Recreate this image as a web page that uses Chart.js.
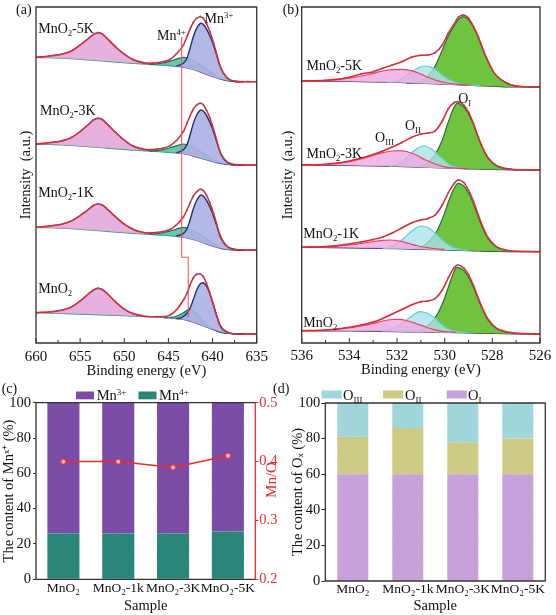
<!DOCTYPE html>
<html><head><meta charset="utf-8">
<script src="https://cdn.jsdelivr.net/npm/chart.js@4.4.1/dist/chart.umd.min.js"></script>
<style>
html,body{margin:0;padding:0;background:#fff;}
body{width:556px;height:615px;position:relative;overflow:hidden;}
canvas{position:absolute;}
</style></head><body>
<canvas id="ca" width="278" height="380" style="left:0;top:0"></canvas>
<canvas id="cb" width="278" height="380" style="left:278px;top:0"></canvas>
<canvas id="cc" width="290" height="235" style="left:0;top:380px"></canvas>
<canvas id="cd" width="286" height="235" style="left:270px;top:380px"></canvas>
<script>
// ===== DATA =====
// Panel (a): Mn 2p XPS, points [binding energy (eV), intensity (a.u., stacked)]
const a5K_bg  = [[660,285.7],[656,284.3],[652,281.7],[649,279.7],[646,278],[644.5,277],[643,275.3],[642,273],[641,269.7],[640,266.3],[639,263.7],[638,262],[637,261.3],[635,261.3]];
const a5K_sat = [[660,285.7],[658,287.5],[657,289],[656,292],[655,298],[654,305],[653.5,308.5],[653,310.3],[652.5,309],[652,305],[651,296],[650,288.5],[649,283],[648,280],[647,278.6]];
const a5K_mn4 = [[647.1,278.3],[645.6,280],[644.4,283],[643.3,285.7],[642.2,282.3],[641.05,276.3],[640.1,270.3],[639.2,264.7],[638,261.8],[637,261.3]];
const a5K_mn3 = [[644.1,276.8],[643.3,279.7],[642.9,284.7],[642.55,294.7],[642.2,305.7],[641.8,314.7],[641.3,319.7],[640.9,317],[640.3,307],[639.9,298],[639.5,287],[639.2,278],[638.8,270.3],[638.4,265.7],[638,263],[637.3,261.3],[636.5,261.3]];
const a5K_env = [[660,285.7],[658,287.5],[657,289],[656,292],[655,298],[654,305],[653.5,308.5],[653,310.3],[652.5,309],[652,305],[651,296.3],[650,289],[649,283.5],[648,280.8],[647.5,279.8],[646.3,280.3],[645.6,281.3],[644.8,283.7],[644.1,289],[643.3,298],[642.9,306.3],[642.55,313.7],[642.2,320.3],[641.8,324.7],[641.4,326.3],[641.05,324.7],[640.7,319.7],[640.3,311.3],[639.9,300.3],[639.5,288],[639.2,278],[638.8,270.3],[638.4,265.7],[638,263],[637.3,261.7],[636,261.3],[635,261.3]];

const a3K_bg  = [[660,199],[656,197.6],[652,195],[649,193],[646,191.3],[644.5,190.3],[643,188.8],[642,186.5],[641,184],[640,181.5],[639,179.5],[638,178.3],[637,178],[635,178]];
const a3K_sat = [[660,199],[658,200.8],[657,202.3],[656,205.5],[655,211.5],[654,219],[653.5,223],[653,224.7],[652.5,223.5],[652,219.5],[651,210.5],[650,202.5],[649,196.5],[648,193.5],[647,192.2]];
const a3K_mn4 = [[647.1,191.8],[645.6,193.3],[644.4,196.3],[643.3,199],[642.2,195.6],[641.05,189.8],[640.1,184.3],[639.2,180.2],[638,178.3],[637,178]];
const a3K_mn3 = [[644.1,190.2],[643.3,193.2],[642.9,198.2],[642.55,208],[642.2,219],[641.8,228],[641.3,233],[640.9,230.5],[640.3,220.5],[639.9,211.5],[639.5,200.5],[639.2,192],[638.8,185],[638.4,181],[638,179],[637.3,178],[636.5,178]];
const a3K_env = [[660,199],[658,200.8],[657,202.3],[656,205.5],[655,211.5],[654,219],[653.5,223],[653,224.7],[652.5,223.5],[652,219.5],[651,210.8],[650,203],[649,197],[648,194.3],[647.5,193.3],[646.3,193.8],[645.6,194.8],[644.8,197.3],[644.1,202.5],[643.3,211.5],[642.9,219.8],[642.55,227],[642.2,233.5],[641.8,238],[641.4,239.7],[641.05,238.2],[640.7,233],[640.3,225],[639.9,214],[639.5,202],[639.2,192.3],[638.8,185.3],[638.4,181.5],[638,179.5],[637.3,178.3],[636,178],[635,178]];

const a1K_bg  = [[660,115.7],[656,114.3],[652,111.7],[649,109.7],[646,108],[644.5,107],[643,105.3],[642,103],[641,100],[640,97],[639,94.5],[638,93.3],[637,93],[635,93]];
const a1K_sat = [[660,115.7],[658,117.5],[657,119],[656,122],[655,127.5],[654,134],[653.5,137.5],[653,139],[652.5,138],[652,134.5],[651,126],[650,118.5],[649,113.2],[648,110.5],[647,109.3]];
const a1K_mn4 = [[647.1,108.8],[645.6,110.3],[644.4,113],[643.3,115.7],[642.2,112.5],[641.05,106.5],[640.1,100.5],[639.2,95.5],[638,93.3],[637,93]];
const a1K_mn3 = [[644.1,106.8],[643.3,109.5],[642.9,114],[642.55,123],[642.2,133.5],[641.8,142.5],[641.3,148],[640.9,145.5],[640.3,136],[639.9,127],[639.5,116.5],[639.2,108],[638.8,101],[638.4,97],[638,94.8],[637.3,93.3],[636.5,93]];
const a1K_env = [[660,115.7],[658,117.5],[657,119],[656,122],[655,127.5],[654,134],[653.5,137.5],[653,139],[652.5,138],[652,134.5],[651,126.3],[650,119],[649,113.8],[648,111],[647.5,110],[646.3,110.5],[645.6,111.5],[644.8,113.5],[644.1,118],[643.3,126],[642.9,133],[642.55,140],[642.2,146.5],[641.8,151],[641.4,153.7],[641.05,152.5],[640.7,148],[640.3,140],[639.9,130],[639.5,118],[639.2,109],[638.8,101.5],[638.4,97],[638,94.5],[637.3,93.3],[636,93],[635,93]];

const a0_bg  = [[660,30.3],[655,29],[650,27.3],[647,26.3],[645,25.3],[644,24.3],[643,23],[642,20.3],[641,17],[640,13.7],[639,11],[638,9.7],[637,9],[635,9]];
const a0_sat = [[660,30.3],[658,31.5],[657,33],[656,36],[655,42],[654,49.5],[653.5,53],[653,54.7],[652.5,53.5],[652,50],[651,41],[650,33.5],[649,29],[648,27],[647,26.3]];
const a0_mn4 = [[645.5,25],[644.8,25.5],[644.1,26.8],[643.3,30.3],[642.6,33.7],[641.8,29.7],[641.05,21.3],[640.1,14.7],[639.2,10.7],[638,9.5],[637,9]];
const a0_mn3 = [[644.1,24.3],[643.5,25.3],[642.9,29.7],[642.55,34.7],[642.2,43],[641.8,53],[641.4,59],[641.1,60.3],[640.7,57],[640.3,49],[639.9,38],[639.5,26.3],[639.2,19],[638.8,13.7],[638,9.7],[637.3,9],[636.5,9]];
const a0_env = [[660,30.3],[658,31.5],[657,33],[656,36],[655,42],[654,49.5],[653.5,53],[653,54.7],[652.5,53.5],[652,50],[651,41.3],[650,34],[649,29.5],[648,27.3],[647.5,26.5],[646.3,26.3],[645.6,26.3],[644.8,28],[644.1,33],[643.3,43],[642.9,49.7],[642.55,58],[642.2,64.7],[641.8,68.7],[641.4,69],[641.05,66.3],[640.7,59.7],[640.3,49.7],[639.9,38],[639.5,26.3],[639.2,18],[638.8,13],[638,9.7],[637.3,9],[636,9],[635,9]];

const mnPeakGuide = [[643.5,306],[643.5,85.7],[642.75,85.7],[642.75,26]];

// Panel (b): O 1s XPS, points [binding energy (eV), intensity (a.u., stacked)]
const b5K_bg  = [[536,262],[534,261.5],[532,260.5],[531,259.8],[530,258.8],[529,257.8],[528,256.8],[527.5,256.2],[527,256],[526,256]];
const b5K_o3  = [[536,262],[535,262.3],[534.2,264.3],[533.5,267],[533,269.7],[532.6,272],[532.2,273.3],[531.8,273.7],[531.4,272.3],[531,269],[530.7,265.7],[530.4,263],[530,260.5],[529.5,258.7],[529,257.8]];
const b5K_o2  = [[532.4,260.6],[532,261.8],[531.8,264.7],[531.4,271.3],[531,276.3],[530.83,277],[530.6,276],[530.4,273.7],[530.1,268],[529.85,263.7],[529.5,260.3],[529,258],[528.5,257.3]];
const b5K_o1  = [[531.6,259.6],[531,262],[530.7,267],[530.4,277],[530.1,293],[529.85,307],[529.57,318.5],[529.43,323.5],[529.22,326.3],[529,323.5],[528.8,316],[528.59,305.5],[528.38,292.5],[528.17,281],[527.89,269],[527.61,263],[527.2,258],[526.5,256.2],[526,256]];
const b5K_env = [[536,262],[535,262.7],[534.2,264.7],[533.5,269],[533,271.3],[532.6,274.7],[532.2,278],[531.8,281.3],[531.4,285.7],[531,287.7],[530.7,288],[530.4,290.3],[530.1,298],[529.85,309.7],[529.57,320.3],[529.43,325.7],[529.22,328],[529,324.7],[528.8,317],[528.59,306.3],[528.38,293],[528.17,281.3],[527.89,269],[527.61,263],[527.2,258],[526.5,256.2],[526,256]];

const b3K_bg  = [[536,178],[534,177.5],[532,176.5],[531,175.8],[530,175],[529,174.2],[528,173.5],[527,173.1],[526,173]];
const b3K_o3  = [[536,178],[535,178.5],[534.2,180.5],[533.5,184],[533,187.5],[532.6,190.3],[532.2,192],[531.95,192.3],[531.6,191.5],[531.2,188],[530.8,183],[530.4,179],[530,176.2],[529.5,174.8],[529,174.2]];
const b3K_o2  = [[532.3,176.3],[531.8,181],[531.4,190],[531,196.5],[530.85,197],[530.5,193],[530.1,184.5],[529.8,178.5],[529.4,175.5],[529,174.3]];
const b3K_o1  = [[531,176],[530.7,180.5],[530.4,188.5],[530.1,203],[529.85,221],[529.6,236],[529.47,239.7],[529.2,236],[529,229],[528.8,218.5],[528.59,205],[528.38,193.5],[528.17,184.5],[527.89,178],[527.6,175],[527.2,173.6],[526.5,173.2],[526,173]];
const b3K_env = [[536,178],[535,178.7],[534.2,181],[533.5,185],[533,188.5],[532.6,192],[532.2,196],[531.8,200.5],[531.4,205.5],[531,209],[530.7,210],[530.4,212],[530.1,222],[529.85,234],[529.6,240.5],[529.45,241.3],[529.2,238],[529,231],[528.8,220],[528.59,206],[528.38,194],[528.17,185],[527.89,178.5],[527.6,175.5],[527.2,173.8],[526.5,173.2],[526,173]];

const b1K_bg  = [[536,95.7],[534,95.2],[532,94.3],[531,93.7],[530,93],[529,92.3],[528,91.7],[527,91.3],[526,91.3]];
const b1K_o3  = [[536,95.7],[535,96.3],[534.2,97.5],[533.5,99.5],[533,101.5],[532.6,102.7],[532.3,103],[531.9,102],[531.5,99.5],[531.1,97],[530.6,94.8],[530,93.5]];
const b1K_o2  = [[532.6,94.5],[532.2,97],[531.8,103],[531.4,111.5],[531,117],[530.7,115.5],[530.4,110],[530.1,103],[529.8,97.5],[529.4,94],[529,92.8]];
const b1K_o1  = [[531.2,94],[530.9,97],[530.6,103],[530.3,113],[530.05,127],[529.8,144],[529.6,155],[529.43,159.7],[529.2,157],[529,150],[528.8,139.5],[528.59,126],[528.38,113.5],[528.17,104],[527.89,97],[527.6,93.5],[527.2,92],[526.5,91.5],[526,91.3]];
const b1K_env = [[536,95.7],[535,96.5],[534.2,98.3],[533.5,101],[533,103.5],[532.6,106],[532.2,110],[531.8,115],[531.4,120],[531,123],[530.7,124.5],[530.4,128],[530.1,138],[529.85,150],[529.6,159.5],[529.43,163],[529.2,160.5],[529,153],[528.8,142],[528.59,128],[528.38,115],[528.17,105],[527.89,97.5],[527.6,94],[527.2,92],[526.5,91.5],[526,91.3]];

const b0_bg  = [[536,12.3],[534,12],[532,11.3],[531,11],[530,10.5],[529,10],[528,9.5],[527,9.2],[526,9]];
const b0_o3  = [[536,12.3],[535,13],[534.2,14.5],[533.5,17],[533,19.5],[532.6,22],[532.2,23.5],[531.95,23.7],[531.6,22.5],[531.2,19.5],[530.8,16],[530.4,13.2],[530,11.5],[529.5,10.5]];
const b0_o2  = [[532.6,12],[532.2,14.5],[531.8,19.5],[531.4,26.5],[531.05,31.3],[530.7,29.5],[530.4,24.5],[530.1,18],[529.8,13.5],[529.4,11],[529,10.2]];
const b0_o1  = [[531.2,11.5],[530.9,14],[530.6,19.5],[530.3,29],[530.05,42],[529.8,59],[529.6,72],[529.5,75.7],[529.2,72.5],[529,66],[528.8,56],[528.59,43.5],[528.38,32],[528.17,22.5],[527.89,15.5],[527.6,12],[527.2,10.2],[526.5,9.2],[526,9]];
const b0_env = [[536,12.3],[535,13],[534.2,15],[533.5,18],[533,21],[532.6,24.5],[532.2,29],[531.8,33.5],[531.4,38],[531,41.3],[530.7,42],[530.4,44.5],[530.1,53],[529.85,65],[529.6,75.5],[529.45,78],[529.2,75],[529,68.5],[528.8,58],[528.59,45],[528.38,33],[528.17,23.5],[527.89,16],[527.6,12.5],[527.2,10.3],[526.5,9.3],[526,9]];

// Panels (c), (d)
const samples  = ['MnO₂','MnO₂-1k','MnO₂-3K','MnO₂-5K'];
const mn3Pct   = [74,74,74,73];
const mn4Pct   = [26,26,26,27];
const mnORatio = [0.40,0.40,0.39,0.41];
const oIPct    = [60,60,60,60];
const oIIPct   = [21,26,18,20];
const oIIIPct  = [19,14,22,20];

const ticksA = [635,660,5];
const ticksB = [526,536,2];

// ===== HELPERS =====
const FONT = '"Liberation Serif","Times New Roman",serif';
Chart.defaults.font.family = FONT;
Chart.defaults.color = '#111';
const P = a => a.map(p => ({x:p[0], y:p[1]}));

function richParts(s){
  const out=[]; let buf='', i=0;
  while(i<s.length){
    const c=s[i];
    if((c==='_'||c==='^') && s[i+1]==='{'){
      if(buf){out.push([buf,0]);buf='';}
      const j=s.indexOf('}',i);
      out.push([s.slice(i+2,j), c==='_'?-1:1]); i=j+1;
    } else {buf+=c;i++;}
  }
  if(buf) out.push([buf,0]);
  return out;
}
function drawRich(ctx, s, x, y, size, color){
  const parts=richParts(s), sub=size*0.62;
  let cx=x;
  ctx.save(); ctx.fillStyle=color; ctx.textBaseline='alphabetic'; ctx.textAlign='left';
  parts.forEach(p=>{
    ctx.font=(p[1]?sub:size)+'px '+FONT;
    const dy = p[1]<0 ? size*0.22 : (p[1]>0 ? -size*0.36 : 0);
    ctx.fillText(p[0],cx,y+dy);
    cx+=ctx.measureText(p[0]).width;
  });
  ctx.restore();
}
function hatch(bg, fg, n){
  const c=document.createElement('canvas'); c.width=c.height=n;
  const g=c.getContext('2d'); g.fillStyle=bg; g.fillRect(0,0,n,n);
  g.strokeStyle=fg; g.lineWidth=0.8; g.beginPath();
  g.moveTo(-1,n+1); g.lineTo(n+1,-1);
  g.moveTo(-1,1); g.lineTo(1,-1);
  g.moveTo(n-1,n+1); g.lineTo(n+1,n-1);
  g.stroke();
  return g.createPattern(c,'repeat');
}
const patMn3 = hatch('#7f50aa','#70449c',3);
const patMn4 = hatch('#2c8c7e','#237468',3);
const patO3  = hatch('#a6dade','#8ccdd3',3);
const patO2  = hatch('#cfcd88','#c5c37c',3);
const patO1  = hatch('#caa6dc','#bb94d0',3);

const decor = {
  id:'decor',
  afterDraw(chart, args, o){
    const ctx=chart.ctx, ca=chart.chartArea;
    ctx.save();
    if(o.frame){
      ctx.lineWidth=1.3; ctx.strokeStyle='#333';
      ctx.beginPath();
      ctx.moveTo(ca.right,ca.top); ctx.lineTo(ca.left,ca.top); ctx.lineTo(ca.left,ca.bottom); ctx.lineTo(ca.right,ca.bottom);
      ctx.stroke();
      ctx.strokeStyle=o.frame.right||'#333';
      ctx.beginPath(); ctx.moveTo(ca.right,ca.top-0.6); ctx.lineTo(ca.right,ca.bottom+0.6); ctx.stroke();
    }
    if(o.innerTicks){
      const xs=chart.scales.x, vals=xs.ticks.map(t=>t.value);
      ctx.strokeStyle='#333'; ctx.lineWidth=1; ctx.beginPath();
      vals.forEach(v=>{const p=xs.getPixelForValue(v); ctx.moveTo(p,ca.bottom); ctx.lineTo(p,ca.bottom-5);});
      for(let i=0;i<vals.length-1;i++){const p=xs.getPixelForValue((vals[i]+vals[i+1])/2); ctx.moveTo(p,ca.bottom); ctx.lineTo(p,ca.bottom-3);}
      ctx.stroke();
    }
    (o.labels||[]).forEach(l=>{
      const px=chart.scales.x.getPixelForValue(l.x), py=chart.scales.y.getPixelForValue(l.y);
      drawRich(ctx,l.t,px,py+5,14,'#111');
    });
    if(o.panel) drawRich(ctx,o.panel.t,o.panel.x,o.panel.y,14,'#111');
    if(o.legend){
      const L=o.legend;
      L.items.forEach(it=>{
        ctx.fillStyle=it.fill; ctx.fillRect(it.bx,L.y,L.w,L.h);
        drawRich(ctx,it.t,it.tx,L.y+L.h/2+5,14.5,'#111');
      });
    }
    if(o.vtitle){
      ctx.translate(o.vtitle.x,o.vtitle.y); ctx.rotate(-Math.PI/2);
      ctx.font='15px '+FONT; ctx.textAlign='center'; ctx.textBaseline='middle';
      ctx.fillStyle=o.vtitle.color; ctx.fillText(o.vtitle.t,0,0);
    }
    ctx.restore();
  }
};

function lineDS(arr, color, width, extra){
  return Object.assign({type:'line', data:P(arr), borderColor:color, borderWidth:width,
    pointRadius:0, fill:false, cubicInterpolationMode:'monotone'}, extra||{});
}
function dotsDS(arr){
  return {type:'line', data:P(arr), showLine:false, pointRadius:1.1, pointBorderWidth:0,
    pointBackgroundColor:'#6a6a90', order:5};
}

// ===== PANEL (a) =====
function buildA(){
  const ds=[];
  [[a5K_bg,a5K_sat,a5K_mn4,a5K_mn3,a5K_env],[a3K_bg,a3K_sat,a3K_mn4,a3K_mn3,a3K_env],
   [a1K_bg,a1K_sat,a1K_mn4,a1K_mn3,a1K_env],[a0_bg,a0_sat,a0_mn4,a0_mn3,a0_env]].forEach(s=>{
    const bg=ds.length;
    ds.push(lineDS(s[0],'#8a3fb0',1.3,{order:10,
      segment:{borderColor:c=>c.p0.parsed.x>645.5?'#2e9a78':'#8a3fb0'}}));
    ds.push(lineDS(s[1],'#96509a',1.2,{order:9, fill:bg, backgroundColor:'rgba(228,166,218,0.88)'}));
    ds.push(lineDS(s[2],'#1f6e58',1.2,{order:8, fill:bg, backgroundColor:'rgba(72,192,158,0.85)'}));
    ds.push(lineDS(s[3],'#22306e',1.4,{order:7, fill:bg, backgroundColor:'rgba(172,178,228,0.92)'}));
    ds.push(lineDS(s[4],'#ee2222',1.5,{order:6}));
    ds.push(dotsDS(s[4]));
  });
  ds.push(lineDS(mnPeakGuide,'rgba(255,70,70,0.9)',1.1,{order:1, cubicInterpolationMode:'default', tension:0}));
  return ds;
}
new Chart(document.getElementById('ca'),{
  type:'line',
  data:{datasets:buildA()},
  options:{
    responsive:false, animation:false, events:[],
    layout:{padding:{top:7,right:21.3,left:0,bottom:0}},
    plugins:{legend:{display:false}, tooltip:{enabled:false},
      decor:{frame:{}, innerTicks:true, panel:{t:'(a)',x:16,y:14},
        labels:[
          {t:'MnO_{2}-5K',x:659.75,y:315},{t:'Mn^{4+}',x:646.3,y:308},{t:'Mn^{3+}',x:640.9,y:325},
          {t:'MnO_{2}-3K',x:659.55,y:233},{t:'MnO_{2}-1K',x:659.75,y:151},{t:'MnO_{2}',x:659.75,y:55}]}},
    scales:{
      x:{type:'linear', reverse:true, min:ticksA[0], max:ticksA[1],
        ticks:{stepSize:ticksA[2], padding:4.7, font:{size:15}, color:'#111'},
        grid:{display:false, drawTicks:false}, border:{display:false},
        title:{display:true, text:'Binding energy (eV)', font:{size:14.5}, padding:{top:0,bottom:0}, color:'#111'},
        afterFit(s){s.height=37;}},
      y:{type:'linear', min:0, max:336, ticks:{display:false}, grid:{display:false, drawTicks:false}, border:{display:false},
        title:{display:true, text:'Intensity  (a.u.)', font:{size:14.5}, padding:{top:17.3,bottom:0}, color:'#111'},
        afterFit(s){s.width=36;}}
    }
  },
  plugins:[decor]
});

// ===== PANEL (b) =====
function buildB(){
  const ds=[];
  [[b5K_bg,b5K_o1,b5K_o2,b5K_o3,b5K_env],[b3K_bg,b3K_o1,b3K_o2,b3K_o3,b3K_env],
   [b1K_bg,b1K_o1,b1K_o2,b1K_o3,b1K_env],[b0_bg,b0_o1,b0_o2,b0_o3,b0_env]].forEach(s=>{
    const bg=ds.length;
    ds.push(lineDS(s[0],'#2c2c58',1.2,{order:10}));
    ds.push(lineDS(s[1],'#2f6b40',1.2,{order:9, fill:bg, backgroundColor:'rgba(104,192,52,0.95)'}));
    ds.push(lineDS(s[2],'#5ccfd2',1.2,{order:8, fill:bg, backgroundColor:'rgba(172,226,236,0.78)'}));
    ds.push(lineDS(s[3],'#e8406e',1.2,{order:7, fill:bg, backgroundColor:'rgba(238,168,222,0.8)'}));
    ds.push(lineDS(s[4],'#ee2222',1.5,{order:6}));
    ds.push(dotsDS(s[4]));
  });
  return ds;
}
new Chart(document.getElementById('cb'),{
  type:'line',
  data:{datasets:buildB()},
  options:{
    responsive:false, animation:false, events:[],
    layout:{padding:{top:7,right:16,left:0,bottom:0}},
    plugins:{legend:{display:false}, tooltip:{enabled:false},
      decor:{frame:{}, innerTicks:true, panel:{t:'(b)',x:4.7,y:14},
        labels:[
          {t:'MnO_{2}-5K',x:535.8,y:278},{t:'MnO_{2}-3K',x:535.8,y:190},
          {t:'MnO_{2}-1K',x:535.93,y:110.3},{t:'MnO_{2}',x:535.93,y:21.3},
          {t:'O_{I}',x:529.43,y:244.7},{t:'O_{II}',x:531.67,y:218},{t:'O_{III}',x:532.92,y:206.3}]}},
    scales:{
      x:{type:'linear', reverse:true, min:ticksB[0], max:ticksB[1],
        ticks:{stepSize:ticksB[2], padding:3.8, font:{size:15}, color:'#111'},
        grid:{display:false, drawTicks:false}, border:{display:false},
        title:{display:true, text:'Binding energy (eV)', font:{size:14.5}, padding:{top:0,bottom:1.5}, color:'#111'},
        afterFit(s){s.height=37;}},
      y:{type:'linear', min:0, max:336, ticks:{display:false}, grid:{display:false, drawTicks:false}, border:{display:false},
        title:{display:true, text:'Intensity  (a.u.)', font:{size:14.5}, padding:{top:1.8,bottom:0}, color:'#111'},
        afterFit(s){s.width=23.7;}}
    }
  },
  plugins:[decor]
});

// ===== PANEL (c) =====
new Chart(document.getElementById('cc'),{
  type:'bar',
  data:{labels:samples, datasets:[
    {type:'line', label:'Mn/O', data:mnORatio, yAxisID:'y2', borderColor:'#ee2a2a', borderWidth:1.5,
      pointRadius:2.6, pointBackgroundColor:'#ffb0b0', pointBorderColor:'#ee2a2a', pointBorderWidth:1, order:0},
    {label:'Mn⁴⁺', data:mn4Pct, backgroundColor:patMn4, stack:'s', order:2, barPercentage:0.585, categoryPercentage:1},
    {label:'Mn³⁺', data:mn3Pct, backgroundColor:patMn3, stack:'s', order:2, barPercentage:0.585, categoryPercentage:1}
  ]},
  options:{
    responsive:false, animation:false, events:[],
    layout:{padding:{top:22.7,right:0,left:0,bottom:0}},
    plugins:{legend:{display:false}, tooltip:{enabled:false},
      decor:{frame:{right:'#ee2a2a'}, panel:{t:'(c)',x:1.7,y:12.5},
        legend:{y:11.5, w:18, h:7.8, items:[
          {t:'Mn^{3+}', fill:patMn3, bx:76, tx:96.7},
          {t:'Mn^{4+}', fill:patMn4, bx:138.5, tx:159}]},
        vtitle:{t:'Mn/O', x:272, y:100, color:'#ee2a2a'}}},
    scales:{
      x:{stacked:true, ticks:{padding:1, font:{size:13.5}, color:'#111', autoSkip:false, maxRotation:0, minRotation:0},
        grid:{display:false, drawTicks:false}, border:{display:false},
        title:{display:true, text:'Sample', font:{size:14.5}, padding:{top:0,bottom:0}, color:'#111'},
        afterFit(s){s.height=35.7;}},
      y:{stacked:true, min:0, max:100, ticks:{stepSize:20, padding:2, font:{size:14.5}, color:'#111'},
        grid:{display:true, drawOnChartArea:false, drawTicks:true, tickLength:3, color:'#333'}, border:{display:false},
        title:{display:true, text:'The content of Mnˣ⁺ (%)', font:{size:14.5}, padding:{top:0,bottom:0}, color:'#111'},
        afterFit(s){s.width=36;}},
      y2:{position:'right', min:0.2, max:0.5,
        ticks:{stepSize:0.1, padding:1, font:{size:14.5}, color:'#ee2a2a', callback:v=>v.toFixed(1)},
        grid:{display:true, drawOnChartArea:false, drawTicks:true, tickLength:3, color:'#ee2a2a'}, border:{display:false},
        afterFit(s){s.width=34.7;}}
    }
  },
  plugins:[decor]
});

// ===== PANEL (d) =====
new Chart(document.getElementById('cd'),{
  type:'bar',
  data:{labels:samples, datasets:[
    {label:'O_I',   data:oIPct,   backgroundColor:patO1, stack:'s', barPercentage:0.564, categoryPercentage:1},
    {label:'O_II',  data:oIIPct,  backgroundColor:patO2, stack:'s', barPercentage:0.564, categoryPercentage:1},
    {label:'O_III', data:oIIIPct, backgroundColor:patO3, stack:'s', barPercentage:0.564, categoryPercentage:1}
  ]},
  options:{
    responsive:false, animation:false, events:[],
    layout:{padding:{top:23,right:10.7,left:0,bottom:0}},
    plugins:{legend:{display:false}, tooltip:{enabled:false},
      decor:{frame:{}, panel:{t:'(d)',x:3,y:12.5},
        legend:{y:10.5, w:20, h:8, items:[
          {t:'O_{III}', fill:patO3, bx:51.7, tx:73},
          {t:'O_{II}',  fill:patO2, bx:113,  tx:135},
          {t:'O_{I}',   fill:patO1, bx:176.7,tx:198}]}}},
    scales:{
      x:{stacked:true, ticks:{padding:0.5, font:{size:13.5}, color:'#111', autoSkip:false, maxRotation:0, minRotation:0},
        grid:{display:false, drawTicks:false}, border:{display:false},
        title:{display:true, text:'Sample', font:{size:14.5}, padding:{top:0,bottom:0}, color:'#111'},
        afterFit(s){s.height=34;}},
      y:{stacked:true, min:0, max:100, ticks:{stepSize:20, padding:1, font:{size:14.5}, color:'#111'},
        grid:{display:true, drawOnChartArea:false, drawTicks:true, tickLength:4, color:'#333'}, border:{display:false},
        title:{display:true, text:'The content of Oₓ (%)', font:{size:14.5}, padding:{top:19,bottom:0}, color:'#111'},
        afterFit(s){s.width=55.3;}}
    }
  },
  plugins:[decor]
});
</script>
</body></html>
